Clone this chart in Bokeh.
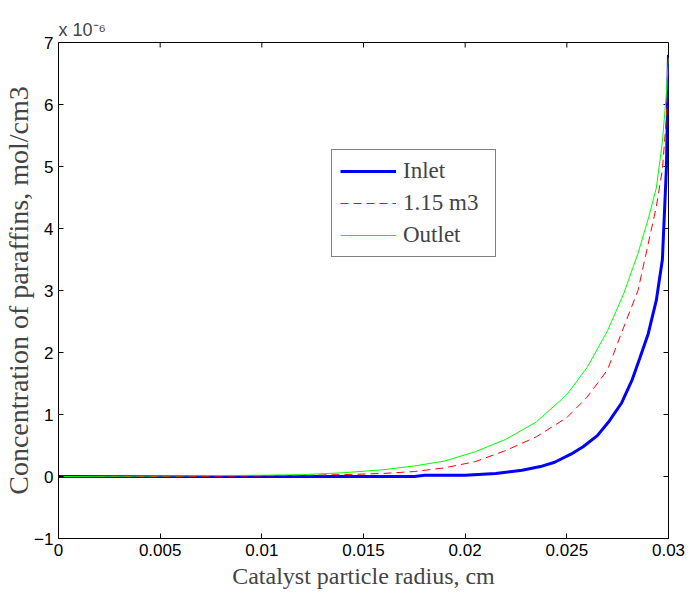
from math import pi
from bokeh.plotting import figure
from bokeh.models import Range1d, FixedTicker, Legend, LegendItem
from bokeh.embed import file_html
from bokeh.resources import INLINE

# Concentrations are in units of 1e-6 mol/cm3
radius_inlet = [0, 0.005, 0.01, 0.015, 0.0175, 0.018, 0.02, 0.0215, 0.0228, 0.0237,
                0.0244, 0.0252, 0.0258, 0.0265, 0.0271, 0.0277, 0.0282, 0.0286, 0.029,
                0.0294, 0.0297, 0.0299, 0.03]
conc_inlet = [0, 0, 0, 0, 0, 0.02, 0.02, 0.05, 0.1, 0.16,
              0.23, 0.36, 0.48, 0.66, 0.9, 1.19, 1.55, 1.92, 2.3,
              2.84, 3.5, 5.0, 6.8]

radius_other = [0, 0.005, 0.01, 0.012, 0.014, 0.016, 0.0175, 0.019, 0.0205, 0.022,
                0.0235, 0.025, 0.026, 0.027, 0.0278, 0.0285, 0.029, 0.0294, 0.0297,
                0.0299, 0.03]
conc_mid = [0, 0, 0.01, 0.02, 0.03, 0.05, 0.08, 0.14, 0.24, 0.42,
            0.64, 0.95, 1.28, 1.72, 2.41, 3.0, 3.75, 4.35, 4.95,
            5.8, 6.75]
conc_outlet = [0, 0.01, 0.02, 0.03, 0.06, 0.11, 0.17, 0.25, 0.4, 0.6,
               0.88, 1.32, 1.76, 2.35, 2.95, 3.6, 4.15, 4.65, 5.4,
               6.2, 6.75]

series_labels = ["Inlet", "1.15 m3", "Outlet"]
x_ticks = [0, 0.005, 0.01, 0.015, 0.02, 0.025, 0.03]
x_tick_labels = ["0", "0.005", "0.01", "0.015", "0.02", "0.025", "0.03"]
y_ticks = [-1, 0, 1, 2, 3, 4, 5, 6, 7]
multiplier_text = "x 10\u207b\u2076"

SANS = "Liberation Sans"
SERIF = "Liberation Serif"
X0, X1, Y0, Y1 = 0, 0.03, -1, 7

p = figure(width=694, height=600, output_backend="svg", toolbar_location=None,
           x_range=Range1d(X0, X1), y_range=Range1d(Y0, Y1),
           min_border_left=58, min_border_right=26, min_border_top=42,
           min_border_bottom=62)
p.grid.visible = False
p.outline_line_color = "black"
p.background_fill_color = "white"
p.border_fill_color = "white"

# multiplier shown as the (left aligned) title
p.title.text = multiplier_text
p.title.text_font = SANS
p.title.text_font_size = "18px"
p.title.text_font_style = "normal"
p.title.align = "left"
p.title.standoff = 5

for ax in (p.xaxis[0], p.yaxis[0]):
    ax.axis_line_color = "black"
    ax.major_tick_line_color = "black"
    ax.major_tick_in = 5
    ax.major_tick_out = 0
    ax.minor_tick_line_color = None
    ax.major_label_standoff = 5
    ax.major_label_text_font = SANS
    ax.major_label_text_font_size = "17px"
    ax.major_label_text_color = "black"

p.xaxis.ticker = FixedTicker(ticks=x_ticks)
p.xaxis.major_label_overrides = dict(zip(x_ticks, x_tick_labels))
p.yaxis.ticker = FixedTicker(ticks=y_ticks)

p.xaxis.axis_label = "Catalyst particle radius, cm"
p.xaxis.axis_label_text_font = SERIF
p.xaxis.axis_label_text_font_style = "normal"
p.xaxis.axis_label_text_font_size = "24px"
p.xaxis.axis_label_standoff = 4

p.yaxis.axis_label = "Concentration of paraffins, mol/cm3"
p.yaxis.axis_label_text_font = SERIF
p.yaxis.axis_label_text_font_style = "normal"
p.yaxis.axis_label_text_font_size = "28px"
p.yaxis.axis_label_standoff = -3

# inward box ticks on the top and right edges
p.ray(x=x_ticks, y=[Y1] * len(x_ticks), length=5, length_units="screen",
      angle=-pi / 2, line_color="black", line_width=1)
p.ray(x=[X1] * len(y_ticks), y=y_ticks, length=5, length_units="screen",
      angle=pi, line_color="black", line_width=1)

r1 = p.line(radius_inlet, conc_inlet, line_color="#0000ff", line_width=3)
r2 = p.line(radius_other, conc_mid, line_color="#ff0000", line_width=1, line_dash="8 5")
r3 = p.line(radius_other, conc_outlet, line_color="#00ff00", line_width=1)

legend = Legend(items=[LegendItem(label=series_labels[0], renderers=[r1]),
                       LegendItem(label=series_labels[1], renderers=[r2]),
                       LegendItem(label=series_labels[2], renderers=[r3])],
                location=(273, 281))
legend.label_text_font = SERIF
legend.label_text_font_size = "23px"
legend.glyph_width = 56
legend.glyph_height = 24
legend.spacing = 6
legend.padding = 8
legend.margin = 0
legend.label_standoff = 7
legend.label_width = 84
legend.border_line_color = "black"
legend.border_line_width = 1
legend.background_fill_alpha = 1
p.add_layout(legend, "center")

open("out.html", "w").write(file_html(p, INLINE))
